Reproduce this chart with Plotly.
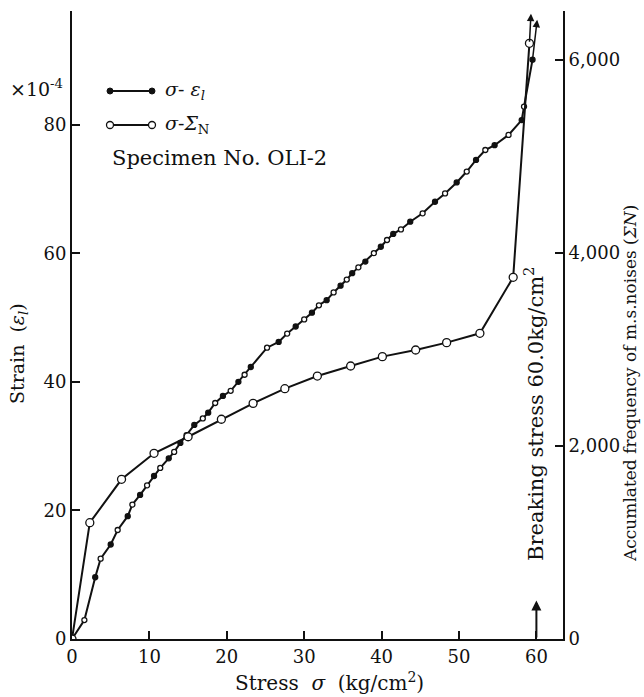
import plotly.graph_objects as go

# ---------------- data ----------------
stress_strain = [0, 1.6, 3.0, 3.7, 5.0, 5.9, 7.2, 7.8, 8.8, 9.7, 10.6, 11.4, 12.5, 13.2, 14.0,
                 14.8, 15.8, 16.9, 17.6, 18.5, 19.5, 20.5, 21.5, 22.3, 23.1, 25.2, 26.7, 27.8,
                 28.9, 30.0, 31.0, 31.9, 32.9, 33.8, 34.7, 35.5, 36.2, 37.0, 37.9, 39.0, 39.9,
                 40.7, 41.5, 42.5, 43.7, 45.3, 46.9, 48.2, 49.7, 51.0, 52.2, 53.4, 54.6, 56.4,
                 58.1, 58.4, 59.5]
strain = [0, 2.95, 9.6, 12.5, 14.7, 16.95, 19.1, 20.9, 22.4, 23.9, 25.35, 26.6, 28.1, 29.1, 30.5,
          31.7, 33.3, 34.3, 35.2, 36.7, 37.8, 38.6, 40.0, 41.1, 42.3, 45.3, 46.2, 47.5,
          48.6, 49.7, 50.75, 51.9, 52.7, 53.9, 54.95, 55.9, 56.9, 57.8, 58.7, 60.0, 61.0,
          62.05, 63.0, 63.7, 64.9, 66.2, 68.0, 69.3, 71.0, 72.7, 74.5, 76.05, 76.8, 78.4,
          80.7, 82.8, 90.1]
strain_arrow_tip = (60.1, 96.3)

stress_noise = [0, 2.3, 6.4, 10.6, 15.0, 19.3, 23.4, 27.5, 31.7, 36.0, 40.1, 44.4, 48.4, 52.7, 57.0, 59.1]
noise = [0, 1205, 1655, 1924, 2096, 2277, 2442, 2594, 2725, 2829, 2926, 2995, 3071, 3168, 3748, 6173]
noise_arrow_tip = (59.3, 6480)

breaking_stress = 60.0

x_ticks = [0, 10, 20, 30, 40, 50, 60]
left_ticks = [0, 20, 40, 60, 80]
right_ticks = [0, 2000, 4000, 6000]

# ---------------- layout geometry (pixels) ----------------
W, H = 644, 697
L, R, T, B = 72, 81, 11, 58
pw, ph = W - L - R, H - T - B

def px(x):
    return (x - L) / pw

def py(y):
    return (H - B - y) / ph

FONT = "DejaVu Serif"
BLACK = "#111111"

fig = go.Figure()

# strain markers: mixture of filled / open as in the scan
fills = [BLACK if i % 2 == 0 else "white" for i in range(len(strain))]
fig.add_trace(go.Scatter(
    x=stress_strain, y=strain, mode="lines+markers",
    line=dict(color=BLACK, width=2),
    marker=dict(symbol="circle", size=5, color=fills, line=dict(color=BLACK, width=1.3)),
    showlegend=False, xaxis="x", yaxis="y"))

fig.add_trace(go.Scatter(
    x=stress_noise, y=noise, mode="lines+markers",
    line=dict(color=BLACK, width=2),
    marker=dict(symbol="circle", size=8, color="white", line=dict(color=BLACK, width=1.3)),
    showlegend=False, xaxis="x", yaxis="y2"))

# legend glyphs on a hidden paper-like axis
leg_x = [px(110), px(152)]
fig.add_trace(go.Scatter(
    x=leg_x, y=[py(91)] * 2, mode="lines+markers",
    line=dict(color=BLACK, width=2),
    marker=dict(size=6, color=BLACK, line=dict(color=BLACK, width=1)),
    showlegend=False, xaxis="x3", yaxis="y3", hoverinfo="skip"))
fig.add_trace(go.Scatter(
    x=leg_x, y=[py(125)] * 2, mode="lines+markers",
    line=dict(color=BLACK, width=2),
    marker=dict(size=7, color="white", line=dict(color=BLACK, width=1.3)),
    showlegend=False, xaxis="x3", yaxis="y3", hoverinfo="skip"))

axis_common = dict(
    showgrid=False, zeroline=False, showline=True, linecolor=BLACK, linewidth=2,
    ticks="inside", ticklen=8, tickwidth=1.5, tickcolor=BLACK,
    tickfont=dict(family=FONT, size=18, color=BLACK),
)

fig.update_layout(
    width=W, height=H,
    margin=dict(l=L, r=R, t=T, b=B),
    paper_bgcolor="white", plot_bgcolor="white",
    xaxis=dict(range=[0, pw / 7.74], tickvals=x_ticks, domain=[0, 1], **axis_common),
    yaxis=dict(range=[0, ph / 6.43], tickvals=left_ticks, **axis_common),
    yaxis2=dict(range=[0, ph / 0.0965], tickvals=right_ticks, tickformat=",",
                overlaying="y", side="right", **axis_common),
    xaxis3=dict(range=[0, 1], visible=False, overlaying="x", domain=[0, 1]),
    yaxis3=dict(range=[0, 1], visible=False, overlaying="y"),
)

ann = []
def text(x, y, s, size=18, angle=0, xanchor="center", yanchor="middle"):
    ann.append(dict(x=px(x), y=py(y), xref="paper", yref="paper", text=s, showarrow=False,
                    textangle=angle, xanchor=xanchor, yanchor=yanchor,
                    font=dict(family=FONT, size=size, color=BLACK)))

text(329, 682, "Stress  <i>σ</i>  (kg/cm<sup>2</sup>)", size=20)
text(18, 354, "Strain  (<i>ε<sub>l</sub></i>)", size=19, angle=-90)
text(630, 384, "Accumlated frequency of m.s.noises (<i>ΣN</i>)", size=17, angle=-90)
text(534, 414, "Breaking stress 60.0kg/cm<sup>2</sup>", size=21, angle=-90)
text(8, 88, "×10<sup>-4</sup>", size=19, xanchor="left")
text(163, 91, "<i>σ</i>- <i>ε<sub>l</sub></i>", size=19, xanchor="left")
text(163, 125, "<i>σ</i>-<i>Σ</i><sub>N</sub>", size=19, xanchor="left")
text(110, 158, "Specimen No. OLI-2", size=21, xanchor="left")

# arrows
ann.append(dict(x=strain_arrow_tip[0], y=strain_arrow_tip[1], ax=stress_strain[-1], ay=strain[-1],
                xref="x", yref="y", axref="x", ayref="y", showarrow=True,
                arrowhead=2, arrowsize=1, arrowwidth=1.5, arrowcolor=BLACK, text=""))
ann.append(dict(x=noise_arrow_tip[0], y=noise_arrow_tip[1], ax=stress_noise[-1], ay=noise[-1],
                xref="x", yref="y2", axref="x", ayref="y2", showarrow=True,
                arrowhead=2, arrowsize=1, arrowwidth=1.5, arrowcolor=BLACK, text=""))
ann.append(dict(x=breaking_stress, y=6.0, ax=breaking_stress, ay=0,
                xref="x", yref="y", axref="x", ayref="y", showarrow=True,
                arrowhead=2, arrowsize=1, arrowwidth=2, arrowcolor=BLACK, text=""))

fig.update_layout(annotations=ann)

fig.write_html("out.html")
